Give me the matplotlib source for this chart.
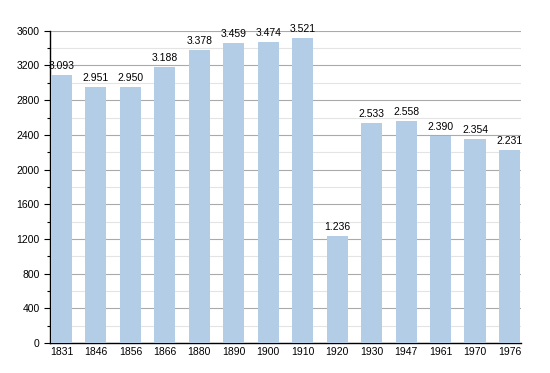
import matplotlib.pyplot as plt
from matplotlib.ticker import MultipleLocator

plt.rcParams['font.family'] = ['Liberation Sans', 'DejaVu Sans']

years = ['1831', '1846', '1856', '1866', '1880', '1890', '1900',
         '1910', '1920', '1930', '1947', '1961', '1970', '1976']
population = [3093, 2951, 2950, 3188, 3378, 3459, 3474,
              3521, 1236, 2533, 2558, 2390, 2354, 2231]

fig = plt.figure(figsize=(5.5, 3.73), dpi=100)
ax = fig.add_axes([0.091, 0.0804, 0.856, 0.837])

x = range(len(years))
ax.bar(x, population, width=0.61, color='#b3cde6', zorder=3)

for i, v in enumerate(population):
    lbl = f'{v:,}'.replace(',', '.')
    ax.text(i, v + 45, lbl, ha='center', va='bottom', fontsize=7.5, zorder=4)

ax.set_xlim(-0.33, len(years) - 1 + 0.33)
ax.set_ylim(0, 3600)
ax.set_xticks(list(x))
ax.set_xticklabels(years, fontsize=7.5)
ax.yaxis.set_major_locator(MultipleLocator(400))
ax.yaxis.set_minor_locator(MultipleLocator(200))
ax.tick_params(axis='y', labelsize=7.5, length=4, width=0.8)
ax.tick_params(axis='y', which='minor', length=2.5, width=0.8)
ax.tick_params(axis='x', length=0, pad=3)

ax.grid(axis='y', which='major', color='#aaaaaa', linewidth=0.8, zorder=1)
ax.grid(axis='y', which='minor', color='#e4e4e4', linewidth=0.8, zorder=1)

for s in ['top', 'right']:
    ax.spines[s].set_visible(False)
ax.spines['left'].set_linewidth(1)
ax.spines['bottom'].set_linewidth(1)

fig.savefig('out.png', dpi=100)
